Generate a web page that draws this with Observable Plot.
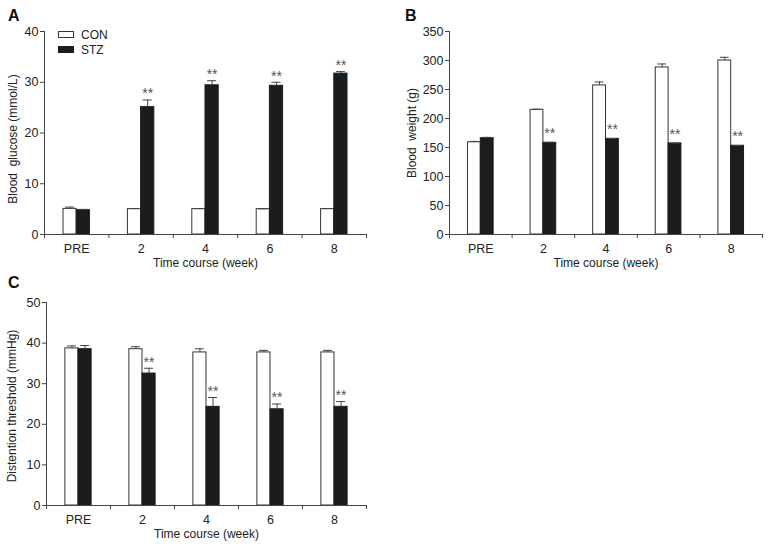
<!DOCTYPE html>
<html><head><meta charset="utf-8">
<script src="https://cdn.jsdelivr.net/npm/d3@7"></script>
<script src="https://cdn.jsdelivr.net/npm/@observablehq/plot@0.6"></script>
<style>
body{margin:0;background:#fff;}
#fig{position:relative;width:776px;height:549px;font-family:"Liberation Sans",Arial,sans-serif;color:#222;overflow:hidden;}
.panel{position:absolute;}
.letter{position:absolute;font-weight:bold;font-size:16px;line-height:16px;color:#111;}
.leg{position:absolute;font-size:12px;line-height:12px;color:#222;}
.box{position:absolute;width:16px;height:7px;border:1px solid #333;box-sizing:border-box;}
</style></head><body><div id="fig"></div>
<script>
const weeks = ["PRE", "2", "4", "6", "8"];
const groups = ["CON", "STZ"];

// Panel A: blood glucose (mmol/L)
const glucoseCON = [5.05, 5.0, 5.0, 5.0, 5.0];
const glucoseCONerr = [0.35, 0.1, 0.1, 0.05, 0.1];
const glucoseSTZ = [4.8, 25.1, 29.4, 29.3, 31.7];
const glucoseSTZerr = [0.15, 1.4, 0.9, 0.7, 0.4];
const glucoseTicks = [0, 10, 20, 30, 40];

// Panel B: body weight (g)
const weightCON = [159, 215, 257, 288, 300];
const weightCONerr = [1.5, 1, 6, 6, 5.5];
const weightSTZ = [166, 158, 165, 157, 153];
const weightSTZerr = [1.5, 1, 0.5, 0.5, 0.5];
const weightTicks = [0, 50, 100, 150, 200, 250, 300, 350];

// Panel C: distention threshold (mmHg)
const threshCON = [38.7, 38.5, 37.7, 37.7, 37.7];
const threshCONerr = [0.6, 0.6, 0.9, 0.5, 0.5];
const threshSTZ = [38.5, 32.5, 24.3, 23.7, 24.3];
const threshSTZerr = [0.9, 1.3, 2.3, 1.3, 1.3];
const threshTicks = [0, 10, 20, 30, 40, 50];

// significance (** vs CON) for STZ
const significant = [false, true, true, true, true];

const fig = document.getElementById("fig");
const FONT = "Liberation Sans, Arial, sans-serif";
const INK = "#444";
const BW = 0.205;

function makePanel({con, conErr, stz, stzErr, ticks, yLabel, width, height, ml, mr, mt, mb, left, top, labelDx, labelDy, starDy}) {
  const rows = [];
  weeks.forEach((w, i) => {
    rows.push({i, g: groups[0], v: con[i], e: con[i] + conErr[i], s: false, x1: i + 0.5 - BW, x2: i + 0.5});
    rows.push({i, g: groups[1], v: stz[i], e: stz[i] + stzErr[i], s: significant[i], x1: i + 0.5, x2: i + 0.5 + BW});
  });
  rows.forEach(d => d.xc = (d.x1 + d.x2) / 2);
  const edges = d3.range(weeks.length + 1);
  const centers = weeks.map((w, i) => i + 0.5);
  const chart = Plot.plot({
    width, height,
    marginLeft: ml, marginRight: mr, marginTop: mt, marginBottom: mb,
    style: {fontFamily: FONT, fontSize: "12px", color: "#222", background: "white"},
    x: {domain: [0, weeks.length]},
    y: {domain: [0, ticks[ticks.length - 1]]},
    marks: [
      Plot.rectY(rows.filter(d => d.g === "CON"), {x1: "x1", x2: "x2", y1: 0, y2: "v", fill: "white", stroke: "#333", strokeWidth: 1}),
      Plot.rectY(rows.filter(d => d.g === "STZ"), {x1: "x1", x2: "x2", y1: 0, y2: "v", fill: "#1c1c1c", stroke: "#1c1c1c", strokeWidth: 1}),
      Plot.ruleX(rows, {x: "xc", y1: "v", y2: "e", stroke: INK, strokeWidth: 1}),
      Plot.ruleY(rows, {y: "e", x1: d => d.xc - 0.07, x2: d => d.xc + 0.07, stroke: INK, strokeWidth: 1}),
      Plot.text(rows.filter(d => d.s), {x: "xc", y: "e", text: () => "**", dy: starDy, fill: "#555", fontSize: 14}),
      Plot.ruleX([0], {stroke: INK}),
      Plot.ruleY([0], {stroke: INK}),
      Plot.axisY({ticks, tickSize: 4, tickPadding: 2, label: null, stroke: INK, fontSize: 12.5}),
      Plot.axisX({ticks: edges, tickSize: 4, tickFormat: () => "", label: null, stroke: INK}),
      Plot.axisX({ticks: centers, tickSize: 0, tickPadding: 10, tickFormat: (t) => weeks[Math.round(t - 0.5)], label: null, fontSize: 12.5}),
      Plot.text(["Time course (week)"], {frameAnchor: "bottom", text: d => d, dy: 32, fontSize: 12, fill: "#222"}),
      Plot.text([yLabel], {frameAnchor: "left", textAnchor: "middle", text: d => d, rotate: -90, dx: labelDx, dy: labelDy, fontSize: 12, fill: "#222"})
    ]
  });
  chart.classList.add("panel");
  chart.style.left = left + "px";
  chart.style.top = top + "px";
  fig.appendChild(chart);
}

makePanel({con: glucoseCON, conErr: glucoseCONerr, stz: glucoseSTZ, stzErr: glucoseSTZerr, ticks: glucoseTicks,
  yLabel: "Blood\u00a0 glucose (mmol/L)", width: 380, height: 280, ml: 44, mr: 14, mt: 31, mb: 46, left: 0, top: 0, labelDx: -31, labelDy: 6, starDy: -6});
makePanel({con: weightCON, conErr: weightCONerr, stz: weightSTZ, stzErr: weightSTZerr, ticks: weightTicks,
  yLabel: "Blood\u00a0 weight (g)", width: 396, height: 280, ml: 69, mr: 14, mt: 31, mb: 46, left: 380, top: 0, labelDx: -37, labelDy: 0, starDy: -9});
makePanel({con: threshCON, conErr: threshCONerr, stz: threshSTZ, stzErr: threshSTZerr, ticks: threshTicks,
  yLabel: "Distention threshold (mmHg)", width: 380, height: 278, ml: 46, mr: 14, mt: 31, mb: 44, left: 0, top: 271, labelDx: -34, labelDy: 2, starDy: -6});

// panel letters
[["A", 8, 8], ["B", 405, 8], ["C", 8, 275]].forEach(([t, x, y]) => {
  const el = document.createElement("div");
  el.className = "letter"; el.textContent = t;
  el.style.left = x + "px"; el.style.top = y + "px";
  fig.appendChild(el);
});

// legend (panel A)
groups.forEach((g, k) => {
  const box = document.createElement("div");
  box.className = "box";
  box.style.left = "58px"; box.style.top = (31 + k * 15) + "px";
  box.style.background = k === 0 ? "white" : "#1c1c1c";
  box.style.borderColor = k === 0 ? "#333" : "#1c1c1c";
  fig.appendChild(box);
  const lab = document.createElement("div");
  lab.className = "leg"; lab.textContent = g;
  lab.style.left = "81px"; lab.style.top = (29 + k * 15) + "px";
  fig.appendChild(lab);
});
</script></body></html>
